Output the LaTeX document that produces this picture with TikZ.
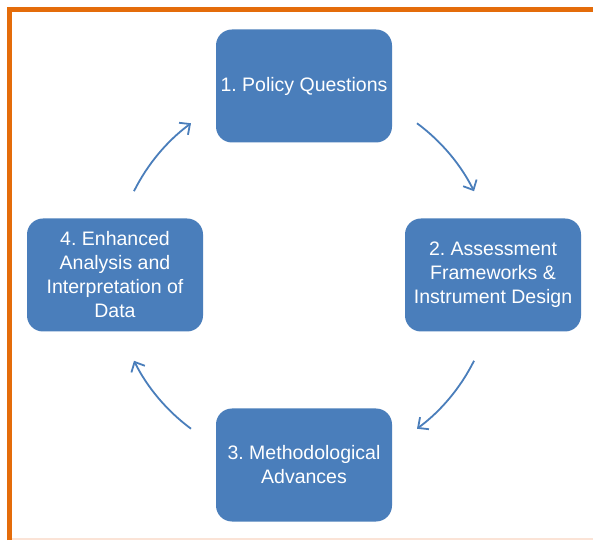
\documentclass[tikz,border=0pt]{standalone}
\usepackage{fontspec}
\setmainfont{Liberation Sans}
\usetikzlibrary{arrows.meta,calc}
\definecolor{stageblue}{HTML}{4A7EBB}
\definecolor{frameorange}{HTML}{E46C0A}
\definecolor{framepeach}{HTML}{FBE3D6}
\tikzset{
  stagebox/.style={draw=none, fill=stageblue, rounded corners=16pt,
    minimum width=176pt, minimum height=113pt, inner sep=0pt,
    text=white, align=center,
    font=\fontsize{19.5}{24}\selectfont\frenchspacing},
  cyclearrow/.style={draw=stageblue, line width=1.8pt,
    -{Straight Barb[length=8pt,width=15pt,line width=1.8pt]}}
}
\begin{document}
\begin{tikzpicture}[x=1pt,y=1pt]
  \useasboundingbox (0,0) rectangle (593,540);
  \fill[white] (0,0) rectangle (593,540);
  % frame
  \draw[framepeach, line width=1.5pt] (11,1) -- (593,1);
  \draw[frameorange, line width=4.5pt] (9.5,0) -- (9.5,530.5) -- (593,530.5);
  % stages
  \node[stagebox] (s1) at (304,454) {1. Policy Questions};
  \node[stagebox] (s2) at (493,265) {2. Assessment\\Frameworks \&\\Instrument Design};
  \node[stagebox] (s3) at (304,75) {3. Methodological\\Advances};
  \node[stagebox] (s4) at (115,265) {4. Enhanced\\Analysis and\\Interpretation of\\Data};
  % arcs of the cycle, on a circle around the centre
  \coordinate (c) at (304,264);
  \coordinate (a1) at ($(c)+(53.5:190)$);
  \coordinate (a2) at ($(c)+(-26.5:190)$);
  \coordinate (a3) at ($(c)+(233.5:190)$);
  \coordinate (a4) at ($(c)+(153.5:190)$);
  \draw[cyclearrow] (a1) arc[start angle=53.5, end angle=26.5, radius=190];
  \draw[cyclearrow] (a2) arc[start angle=-26.5, end angle=-53.5, radius=190];
  \draw[cyclearrow] (a3) arc[start angle=233.5, end angle=206.5, radius=190];
  \draw[cyclearrow] (a4) arc[start angle=153.5, end angle=126.5, radius=190];
\end{tikzpicture}
\end{document}
